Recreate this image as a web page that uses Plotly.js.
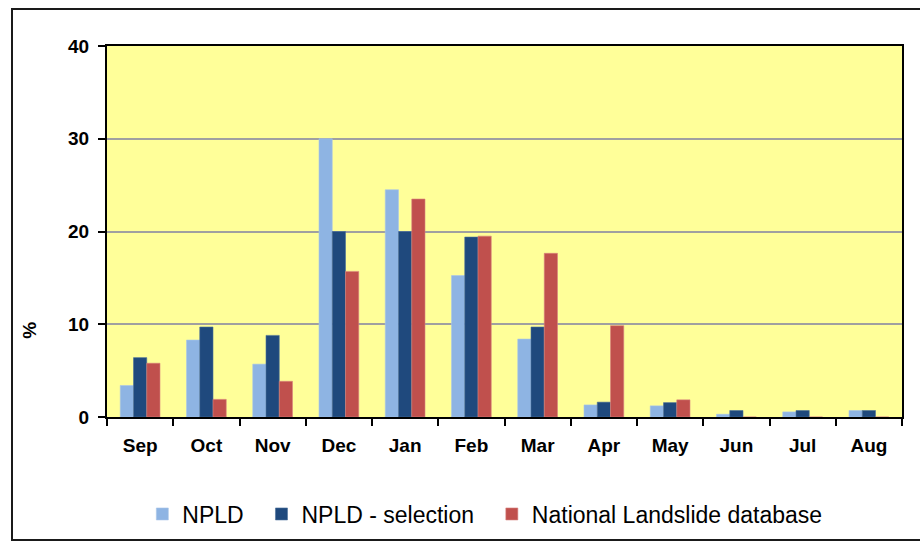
<!DOCTYPE html>
<html>
<head>
<meta charset="utf-8">
<script src="https://cdn.plot.ly/plotly-3.0.1.min.js"></script>
<style>
  html, body { margin: 0; padding: 0; background: #ffffff; }
  #chart { width: 920px; height: 543px; }
</style>
</head>
<body>
<div id="chart"></div>
<script>
const months = ["Sep", "Oct", "Nov", "Dec", "Jan", "Feb", "Mar", "Apr", "May", "Jun", "Jul", "Aug"];
const npld = [3.4, 8.3, 5.7, 30.0, 24.5, 15.25, 8.4, 1.3, 1.2, 0.3, 0.55, 0.7];
const npldSelection = [6.4, 9.7, 8.8, 20.0, 20.0, 19.4, 9.7, 1.6, 1.55, 0.7, 0.7, 0.7];
const nationalLandslide = [5.8, 1.9, 3.85, 15.7, 23.5, 19.5, 17.65, 9.85, 1.85, 0, 0, 0];
const seriesNames = ["NPLD", "NPLD - selection", "National Landslide database"];
const yTicks = [0, 10, 20, 30, 40];

const FONT = "Arial, 'Liberation Sans', sans-serif";
const PAD = "\u00a0\u00a0";

const traces = [
  { type: "bar", name: seriesNames[0] + PAD, x: months, y: npld,
    marker: { color: "#8EB4E3", line: { color: "#A9C6EA", width: 0.6 } } },
  { type: "bar", name: seriesNames[1] + PAD, x: months, y: npldSelection,
    marker: { color: "#1F497D", line: { color: "#4A6E9A", width: 0.6 } } },
  { type: "bar", name: seriesNames[2], x: months, y: nationalLandslide,
    marker: { color: "#C0504D", line: { color: "#D9837F", width: 0.6 } } }
];

const layout = {
  width: 920, height: 543,
  margin: { l: 107, r: 18, t: 46, b: 126, pad: 0 },
  paper_bgcolor: "#ffffff",
  plot_bgcolor: "#FFFF99",
  barmode: "group",
  bargap: 0.4,
  bargroupgap: 0,
  showlegend: true,
  font: { family: FONT, color: "#000000" },
  xaxis: {
    type: "category",
    tickson: "boundaries",
    ticks: "outside", ticklen: 7, tickwidth: 2, tickcolor: "#000000",
    showline: true, linecolor: "#000000", linewidth: 2, mirror: true,
    showgrid: false, zeroline: false,
    tickfont: { family: FONT, size: 19, color: "#000000", weight: "bold" },
    ticklabelstandoff: 10,
    fixedrange: true
  },
  yaxis: {
    range: [0, 40],
    tickvals: yTicks,
    ticktext: yTicks.map(String),
    ticks: "outside", ticklen: 7, tickwidth: 2, tickcolor: "#000000",
    showline: true, linecolor: "#000000", linewidth: 2, mirror: true,
    showgrid: true, gridcolor: "#A0A0A0", gridwidth: 2,
    zeroline: false,
    tickfont: { family: FONT, size: 19, color: "#000000", weight: "bold" },
    ticklabelstandoff: 5,
    fixedrange: true
  },
  legend: {
    orientation: "h",
    xref: "container", yref: "container",
    x: 0.527, xanchor: "center",
    y: 0.0534, yanchor: "middle",
    font: { family: FONT, size: 23, color: "#000000" },
    bgcolor: "rgba(0,0,0,0)",
    itemclick: false, itemdoubleclick: false
  },
  annotations: [
    { text: "%", textangle: -90, xref: "paper", yref: "paper",
      x: -0.0969, y: 0.235, xanchor: "center", yanchor: "middle",
      showarrow: false, font: { family: FONT, size: 19, color: "#000000", weight: "bold" } }
  ],
  shapes: [
    { type: "rect", xref: "paper", yref: "paper",
      x0: -0.1195, x1: 1.05, y0: -0.3315, y1: 1.0997,
      line: { color: "#1a1a1a", width: 2 }, fillcolor: "rgba(0,0,0,0)", layer: "below" }
  ]
};

Plotly.newPlot("chart", traces, layout, { displayModeBar: false, staticPlot: true });
</script>
</body>
</html>
